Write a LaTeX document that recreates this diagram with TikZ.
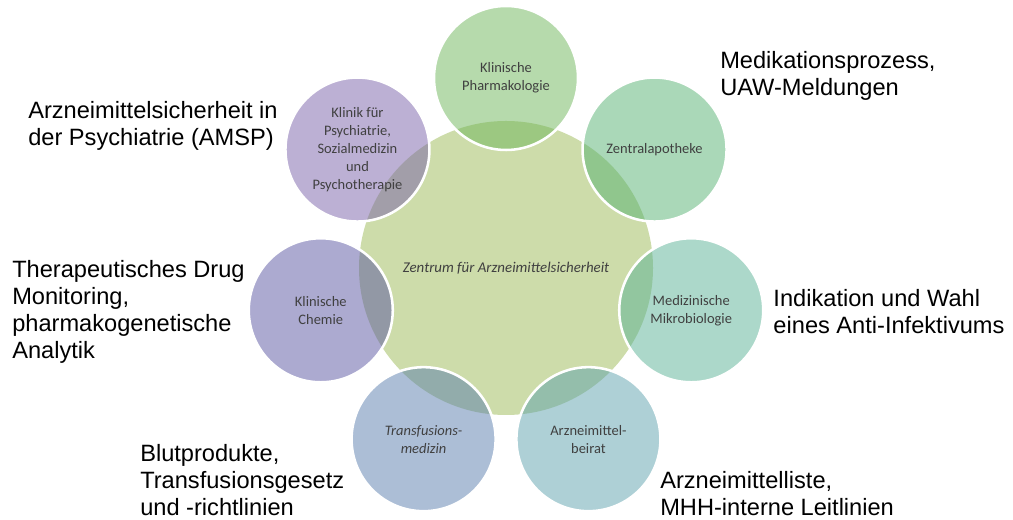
\documentclass[tikz,border=0pt]{standalone}
\usepackage{fontspec}
\setmainfont{Liberation Sans}
\newfontfamily\smartfont{Carlito}
\usetikzlibrary{calc}

\definecolor{zentrum}{RGB}{205,220,170}
\definecolor{pharma}{RGB}{109,181,89}
\definecolor{apotheke}{RGB}{85,177,113}
\definecolor{mikro}{RGB}{89,177,149}
\definecolor{beirat}{RGB}{93,161,173}
\definecolor{transfusion}{RGB}{89,125,173}
\definecolor{chemie}{RGB}{89,85,161}
\definecolor{psych}{RGB}{121,97,169}

\begin{document}
\begin{tikzpicture}[
    ring/.style={circle, draw=white, line width=1.8pt, minimum size=3.6cm,
        fill opacity=0.5, text opacity=1, align=center, text=black!75,
        font=\smartfont\fontsize{10.3}{12.8}\selectfont},
    info/.style={anchor=west, inner sep=0pt, align=left,
        font=\fontsize{16.8}{19.2}\selectfont}]
    \useasboundingbox (0,0) rectangle (25.325,13);
    \coordinate (O) at (12.65,6.3);

    % centre
    \node[circle, fill=zentrum, minimum size=7.35cm, text=black!75,
        font=\smartfont\itshape\fontsize{10.6}{12.8}\selectfont] (Zentrum) at (O)
        {Zentrum f\"ur Arzneimittelsicherheit};

    % seven partners round the centre
    \node[ring, fill=pharma] (P) at ($(O)+(90:4.75)$) {Klinische\\Pharmakologie};
    \node[ring, fill=apotheke] (Z) at ($(O)+(38.57:4.75)$) {Zentralapotheke};
    \node[ring, fill=mikro] (M) at ($(O)+(-12.86:4.75)$) {Medizinische\\Mikrobiologie};
    \node[ring, fill=beirat] (A) at ($(O)+(-64.29:4.75)$) {Arzneimittel-\\beirat};
    \node[ring, fill=transfusion, font=\smartfont\itshape\fontsize{10.3}{12.8}\selectfont]
        (T) at ($(O)+(-115.71:4.75)$) {Transfusions-\\medizin};
    \node[ring, fill=chemie] (C) at ($(O)+(-167.14:4.75)$) {Klinische\\Chemie};
    \node[ring, fill=psych] (S) at ($(O)+(141.43:4.75)$)
        {Klinik f\"ur\\Psychiatrie,\\Sozialmedizin\\und\\Psychotherapie};

    % tasks
    \node[info] (Zinfo) at (18.0,11.11) {Medikationsprozess,\\UAW-Meldungen};
    \node[info] (Sinfo) at (0.7,9.86) {Arzneimittelsicherheit in\\der Psychiatrie (AMSP)};
    \node[info] (Cinfo) at (0.3,5.2) {Therapeutisches Drug\\Monitoring,\\pharmakogenetische\\Analytik};
    \node[info] (Minfo) at (19.33,5.2) {Indikation und Wahl\\eines Anti-Infektivums};
    \node[info] (Tinfo) at (3.5,1.0) {Blutprodukte,\\Transfusionsgesetz\\und -richtlinien};
    \node[info] (Ainfo) at (16.5,0.66) {Arzneimittelliste,\\MHH-interne Leitlinien};
\end{tikzpicture}
\end{document}
